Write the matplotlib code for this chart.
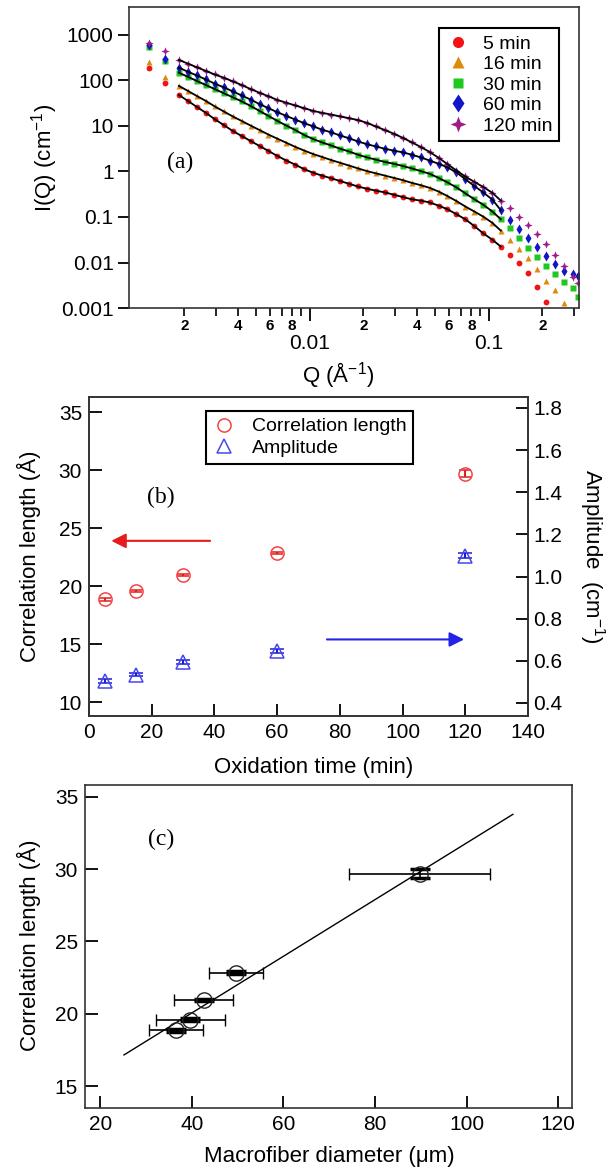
import matplotlib
matplotlib.use("Agg")
import matplotlib.pyplot as plt
import numpy as np
from matplotlib.lines import Line2D
from matplotlib.ticker import FixedLocator, FuncFormatter, NullLocator

plt.rcParams.update({"font.family": "Liberation Sans", "font.size": 14,
                     "mathtext.default": "regular", "axes.linewidth": 1.2,
                     "axes.edgecolor": "#333333"})

# ---------------- (a) SANS curves I(Q) ----------------
q_first = [0.00126, 0.00155]
q = [0.00186, 0.00209, 0.00234, 0.00263, 0.00295, 0.00331, 0.00372, 0.00417, 0.00468, 0.00525,
     0.00589, 0.00661, 0.00741, 0.00832, 0.00933, 0.0105, 0.0117, 0.0132, 0.0148, 0.0166,
     0.0186, 0.0209, 0.0234, 0.0263, 0.0295, 0.0331, 0.0372, 0.0417, 0.0468, 0.0525,
     0.0589, 0.0661, 0.0741, 0.0832, 0.0933, 0.105, 0.117, 0.132, 0.148, 0.166,
     0.186, 0.209, 0.234, 0.263, 0.295, 0.316]

first_5 = [185, 89]
first_16 = [250, 120]
first_30 = [550, 270]
first_60 = [610, 300]
first_120 = [670, 450]

i_5 = [48, 35.5, 26.3, 19.5, 14.1, 10.5, 7.76, 6.03, 4.68, 3.63,
       2.82, 2.19, 1.74, 1.41, 1.12, 0.933, 0.813, 0.708, 0.617, 0.537,
       0.468, 0.417, 0.380, 0.347, 0.309, 0.275, 0.245, 0.229, 0.209, 0.178,
       0.148, 0.115, 0.0891, 0.0631, 0.0437, 0.0316, 0.0224, 0.0148, 0.0100, 0.00589,
       0.00295, 0.00138]
i_16 = [75.9, 58.9, 45.7, 35.5, 26.9, 20.9, 16.2, 12.9, 10.2, 8.13,
        6.46, 5.25, 4.27, 3.47, 2.88, 2.40, 2.09, 1.78, 1.55, 1.35,
        1.17, 1.02, 0.912, 0.813, 0.724, 0.646, 0.562, 0.501, 0.437, 0.363,
        0.288, 0.224, 0.170, 0.132, 0.102, 0.0741, 0.0501, 0.0316, 0.0200, 0.0123,
        0.00724, 0.00398, 0.00251, 0.00132]
i_30 = [148, 120, 97.7, 79.4, 64.6, 52.5, 42.7, 34.7, 27.5, 21.4,
        16.6, 12.9, 10.2, 8.13, 6.31, 5.13, 4.37, 3.72, 3.16, 2.75,
        2.34, 2.04, 1.82, 1.62, 1.48, 1.32, 1.17, 1.02, 0.891, 0.724,
        0.575, 0.447, 0.331, 0.245, 0.186, 0.132, 0.0891, 0.0562, 0.0339, 0.0204,
        0.0129, 0.00851, 0.00562, 0.00380, 0.00282, 0.00178]
i_60 = [191, 155, 129, 105, 85.1, 70.8, 57.5, 46.8, 38.0, 30.2,
        24.5, 20.0, 16.6, 13.8, 11.5, 9.77, 8.32, 7.24, 6.17, 5.37,
        4.57, 3.98, 3.55, 3.16, 2.88, 2.63, 2.34, 2.04, 1.74, 1.48,
        1.23, 0.955, 0.676, 0.479, 0.347, 0.240, 0.141, 0.0871, 0.0550, 0.0339,
        0.0214, 0.0138, 0.00933, 0.00661, 0.00550, 0.00501]
i_120 = [282, 234, 195, 162, 135, 115, 95.5, 79.4, 64.6, 53.7,
         44.7, 37.2, 32.4, 28.2, 24.5, 21.4, 19.5, 17.8, 16.2, 14.8,
         13.5, 11.7, 9.77, 8.13, 6.76, 5.50, 4.37, 3.47, 2.69, 2.00,
         1.45, 1.05, 0.776, 0.589, 0.457, 0.339, 0.229, 0.155, 0.102, 0.0676,
         0.0417, 0.0251, 0.0145, 0.00851, 0.00490, 0.00363]
fit_q_max = 0.12
labels_a = ["5 min", "16 min", "30 min", "60 min", "120 min"]

# ---------------- (b) fit parameters vs oxidation time ----------------
time_min = [5, 15, 30, 60, 120]
corr_len = [18.85, 19.6, 20.95, 22.85, 29.7]
corr_err = [0.1, 0.1, 0.1, 0.1, 0.3]
amplitude = [0.505, 0.535, 0.595, 0.648, 1.098]
amp_err = [0.008, 0.008, 0.01, 0.01, 0.012]

# ---------------- (c) correlation length vs macrofiber diameter ----------------
diameter = [36.5, 39.7, 42.6, 49.7, 89.8]
diameter_err = [5.9, 7.5, 6.4, 5.9, 15.4]
fit_d = [25.2, 110.1]
fit_len = [17.15, 33.8]

star4 = [(0, 1), (0.28, 0.28), (1, 0), (0.28, -0.28), (0, -1), (-0.28, -0.28), (-1, 0), (-0.28, 0.28), (0, 1)]
styles_a = [("#f01414", "o", 4.2), ("#e08a0c", "^", 4.6), ("#1ec81e", "s", 3.8),
            ("#1414c8", "d", 5.0), ("#a21a88", star4, 6.0)]

fig = plt.figure(figsize=(6.06, 11.69), dpi=100)

# ---- panel (a)
ax = fig.add_axes([0.2129, 0.7365, 0.7426, 0.2575])
series = [(first_5, i_5), (first_16, i_16), (first_30, i_30), (first_60, i_60), (first_120, i_120)]
for (first, vals), (col, mk, ms), lab in zip(series, styles_a, labels_a):
    ax.plot(q_first + q[:len(vals)], first + vals, ls="none", marker=mk, ms=ms,
            color=col, mec="none", label=lab)
for first, vals in series:
    qq = np.array(q[:len(vals)])
    keep = qq <= fit_q_max
    ax.plot(qq[keep], np.array(vals)[keep], color="black", lw=1.3, zorder=4)

ax.set_xscale("log")
ax.set_yscale("log")
ax.set_xlim(0.00098, 0.32)
ax.set_ylim(0.001, 4100)
ax.yaxis.set_major_locator(FixedLocator([0.001, 0.01, 0.1, 1, 10, 100, 1000]))
ax.yaxis.set_major_formatter(FuncFormatter(lambda v, p: f"{v:g}"))
ax.yaxis.set_minor_locator(NullLocator())
ax.xaxis.set_major_locator(FixedLocator([0.01, 0.1]))
ax.xaxis.set_major_formatter(FuncFormatter(lambda v, p: f"{v:g}"))
minor = [k * 10.0 ** e for e in (-3, -2, -1) for k in range(2, 10) if 0.00098 < k * 10.0 ** e < 0.32]
ax.xaxis.set_minor_locator(FixedLocator(minor))


def minor_fmt(v, pos):
    m = int(round(v / 10 ** np.floor(np.log10(v) + 1e-9)))
    return str(m) if m in (2, 4, 6, 8) else ""


ax.xaxis.set_minor_formatter(FuncFormatter(minor_fmt))
ax.tick_params(axis="x", which="major", direction="out", length=9, width=1.3, pad=10, labelsize=15)
ax.tick_params(axis="x", which="minor", direction="out", length=6, width=1.2, pad=2, labelsize=11)
ax.tick_params(axis="y", which="major", direction="out", length=8, width=1.3, pad=3, labelsize=15)
for t in ax.get_xticklabels(minor=True):
    t.set_fontweight("bold")
ax.set_ylabel("I(Q) (cm$^{-1}$)", fontsize=16, va="center")
ax.yaxis.set_label_coords(-0.187, 0.50)
ax.set_xlabel("Q (Å$^{-1}$)", fontsize=16, va="center")
ax.xaxis.set_label_coords(0.464, -0.222)
ax.text(0.113, 0.482, "(a)", transform=ax.transAxes, ha="center", va="center",
        family="Liberation Serif", fontsize=17)
leg = ax.legend(loc="upper right", bbox_to_anchor=(0.956, 0.930), borderaxespad=0,
                fancybox=False, edgecolor="black", framealpha=1, fontsize=14,
                markerscale=1.9, handlelength=1.2, handletextpad=0.7, labelspacing=0.15,
                borderpad=0.35)
leg.get_frame().set_linewidth(1.5)

# ---- panel (b)
red_b, red_bar = "#f04646", "#e01e1e"
blue_b, blue_bar = "#4646ee", "#1c1cd2"
axb = fig.add_axes([0.1469, 0.3875, 0.7244, 0.2729])
axb2 = axb.twinx()
axb.errorbar(time_min, corr_len, yerr=corr_err, fmt="o", mfc="none", mec=red_b, mew=1.1, ms=9.5,
             ecolor=red_bar, elinewidth=1.5, capsize=4.5, capthick=2.5)
axb2.errorbar(time_min, amplitude, yerr=amp_err, fmt="^", mfc="none", mec=blue_b, mew=1.1, ms=9.5,
              ecolor=blue_bar, elinewidth=1.5, capsize=5, capthick=2.2)
axb.set_xlim(0, 140)
axb.set_ylim(8.8, 36.3)
axb2.set_ylim(0.338, 1.852)
axb.set_xticks(range(0, 141, 20))
axb.set_yticks(range(10, 36, 5))
axb2.set_yticks(np.arange(0.4, 1.81, 0.2))
axb2.yaxis.set_major_formatter(FuncFormatter(lambda v, p: f"{v:.1f}"))
axb.tick_params(direction="in", length=9, width=1.3, labelsize=15, pad=5)
axb2.tick_params(direction="in", length=9, width=1.3, labelsize=15, pad=4)
axb.set_ylabel("Correlation length (Å)", fontsize=16, va="center")
axb.yaxis.set_label_coords(-0.137, 0.50)
axb2.set_ylabel("Amplitude  (cm$^{-1}$)", fontsize=16, rotation=270, va="center")
axb2.yaxis.set_label_coords(1.146, 0.50)
axb.set_xlabel("Oxidation time (min)", fontsize=16, va="center")
axb.xaxis.set_label_coords(0.5125, -0.16)
axb.text(0.164, 0.6865, "(b)", transform=axb.transAxes, ha="center", va="center",
         family="Liberation Serif", fontsize=17)
axb.annotate("", xy=(6.2, 23.9), xytext=(39.5, 23.9),
             arrowprops=dict(arrowstyle="-|>", color="#e41c1c", lw=1.5, mutation_scale=22))
axb.annotate("", xy=(120.5, 15.4), xytext=(75, 15.4),
             arrowprops=dict(arrowstyle="-|>", color="#2424e6", lw=1.5, mutation_scale=22))
handles = [Line2D([], [], ls="none", marker="o", mfc="none", mec=red_b, mew=1.1, ms=9.5),
           Line2D([], [], ls="none", marker="^", mfc="none", mec=blue_b, mew=1.1, ms=9.5)]
legb = axb2.legend(handles, ["Correlation length", "Amplitude"], loc="upper left",
                   bbox_to_anchor=(0.2665, 0.956), borderaxespad=0, fancybox=False,
                   edgecolor="black", framealpha=1, fontsize=14, handlelength=1.2,
                   handletextpad=0.8, labelspacing=0.2, borderpad=0.35)
legb.get_frame().set_linewidth(1.5)

# ---- panel (c)
axc = fig.add_axes([0.1403, 0.0522, 0.8036, 0.2763])
axc.plot(fit_d, fit_len, color="black", lw=1.0)
axc.errorbar(diameter, corr_len, xerr=diameter_err, fmt="o", mfc="none", mec="#222222", mew=1.0,
             ms=11, ecolor="black", elinewidth=1.2, capsize=4, capthick=1.2)
axc.errorbar(diameter, corr_len, yerr=corr_err, fmt="none", ecolor="black", elinewidth=1.2,
             capsize=7, capthick=2.5)
axc.set_xlim(16.7, 123)
axc.set_ylim(13.48, 35.83)
axc.set_xticks(range(20, 121, 20))
axc.set_yticks(range(15, 36, 5))
axc.tick_params(direction="in", length=9, width=1.3, labelsize=15, pad=5)
axc.set_ylabel("Correlation length (Å)", fontsize=16, va="center")
axc.yaxis.set_label_coords(-0.115, 0.505)
axc.set_xlabel("Macrofiber diameter (μm)", fontsize=16, va="center")
axc.xaxis.set_label_coords(0.501, -0.149)
axc.text(0.156, 0.83, "(c)", transform=axc.transAxes, ha="center", va="center",
         family="Liberation Serif", fontsize=17)

fig.savefig("out.png", dpi=100)
